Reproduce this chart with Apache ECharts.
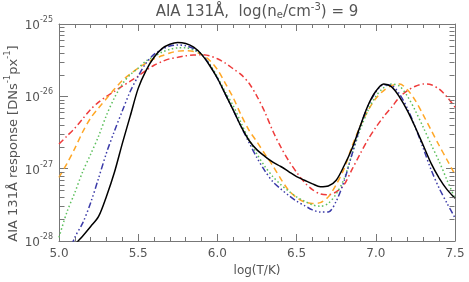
<!DOCTYPE html>
<html><head><meta charset="utf-8">
<script src="https://cdn.jsdelivr.net/npm/echarts@6/dist/echarts.min.js"></script>
<style>html,body{margin:0;padding:0;background:#fff}#c{width:469px;height:282px}</style>
</head><body><div id="c"></div><script>
// log10(T/K) sample points
const logT = [5.00,5.05,5.10,5.15,5.20,5.25,5.30,5.35,5.40,5.45,5.50,5.55,5.60,5.65,5.70,5.75,5.80,5.85,5.90,5.95,
  6.00,6.05,6.10,6.15,6.20,6.25,6.30,6.35,6.40,6.45,6.50,6.55,6.60,6.65,6.70,6.75,6.80,6.85,6.90,6.95,
  7.00,7.05,7.10,7.15,7.20,7.25,7.30,7.35,7.40,7.45,7.50];
// response values as log10(DN s^-1 px^-1)
const blackResp = [-28.35,-28.20,-28.05,-27.93,-27.80,-27.66,-27.38,-27.05,-26.65,-26.27,-25.89,-25.64,-25.46,-25.34,-25.28,-25.255,-25.27,-25.32,-25.42,-25.57,
  -25.75,-25.97,-26.19,-26.42,-26.61,-26.74,-26.83,-26.91,-26.97,-27.04,-27.11,-27.16,-27.21,-27.25,-27.24,-27.16,-26.96,-26.72,-26.42,-26.13,
  -25.93,-25.83,-25.87,-26.01,-26.20,-26.43,-26.68,-26.93,-27.13,-27.29,-27.41];
const blueResp = [-28.60,-28.25,-27.95,-27.75,-27.47,-27.13,-26.78,-26.48,-26.20,-25.93,-25.72,-25.54,-25.42,-25.35,-25.305,-25.29,-25.30,-25.34,-25.42,-25.56,
  -25.75,-25.97,-26.19,-26.42,-26.64,-26.85,-27.03,-27.18,-27.28,-27.37,-27.45,-27.51,-27.57,-27.60,-27.60,-27.45,-27.17,-26.80,-26.43,-26.14,
  -25.94,-25.84,-25.85,-25.97,-26.17,-26.43,-26.72,-27.02,-27.27,-27.48,-27.68];
const greenResp = [-27.95,-27.60,-27.33,-27.04,-26.80,-26.55,-26.26,-26.02,-25.83,-25.70,-25.61,-25.51,-25.45,-25.39,-25.35,-25.33,-25.33,-25.36,-25.42,-25.55,
  -25.73,-25.94,-26.13,-26.37,-26.60,-26.80,-26.97,-27.11,-27.22,-27.31,-27.39,-27.45,-27.50,-27.52,-27.48,-27.35,-27.14,-26.80,-26.47,-26.20,
  -26.00,-25.88,-25.83,-25.86,-26.00,-26.20,-26.43,-26.67,-26.90,-27.16,-27.41];
const orangeResp = [-27.12,-26.93,-26.72,-26.49,-26.30,-26.16,-26.03,-25.90,-25.78,-25.69,-25.61,-25.54,-25.48,-25.44,-25.40,-25.375,-25.37,-25.38,-25.42,-25.50,
  -25.63,-25.82,-26.02,-26.26,-26.47,-26.63,-26.80,-26.96,-27.14,-27.30,-27.40,-27.46,-27.48,-27.47,-27.39,-27.22,-27.00,-26.69,-26.42,-26.20,
  -26.03,-25.92,-25.85,-25.83,-25.91,-26.06,-26.26,-26.47,-26.68,-26.88,-27.08];
const redResp = [-26.66,-26.55,-26.44,-26.31,-26.18,-26.08,-26.00,-25.93,-25.86,-25.79,-25.72,-25.64,-25.57,-25.52,-25.48,-25.46,-25.44,-25.43,-25.425,-25.44,
  -25.48,-25.54,-25.62,-25.70,-25.82,-26.00,-26.22,-26.48,-26.70,-26.89,-27.05,-27.19,-27.29,-27.35,-27.36,-27.32,-27.22,-27.01,-26.80,-26.60,
  -26.43,-26.28,-26.15,-26.01,-25.92,-25.86,-25.83,-25.84,-25.90,-26.01,-26.15];
const yDecades = [-28,-27,-26,-25];
const xTickLabels = ['5.0','5.5','6.0','6.5','7.0','7.5'];

const FONT = 'DejaVu Sans';
const TXT = '#555';
const AX = '#777';

// minor log ticks (2..9 x 10^n) in log10 space
const yMinor = [];
for (let n = -28; n < -25; n++) for (let k = 2; k <= 9; k++) yMinor.push(n + Math.log10(k));

function xAx(pos, labels) {
  const a = {
    type: 'value', min: 5, max: 7.5, interval: 0.5, position: pos,
    axisLine: {show: true, onZero: false, lineStyle: {color: AX, width: 1}},
    axisTick: {show: true, inside: true, length: 7, lineStyle: {color: AX}},
    minorTick: {show: true, splitNumber: 5, length: 4, lineStyle: {color: AX}},
    splitLine: {show: false}, minorSplitLine: {show: false},
    axisLabel: labels ? {show: true, color: TXT, fontFamily: FONT, fontSize: 12, margin: 7,
      formatter: v => xTickLabels[Math.round((v - 5) / 0.5)]} : {show: false},
    name: labels ? 'log(T/K)' : '', nameLocation: 'middle', nameGap: 24,
    nameTextStyle: {color: TXT, fontFamily: FONT, fontSize: 12}
  };
  if (!labels) {
    // chart title, centred over the plot box
    a.name = '{t|AIA 131Å,  log(n}{sub|e}{t|/cm}{sup|-3}{t|) = 9}';
    a.nameGap = 4;
    a.nameTextStyle = {rich: {
      t: {fontSize: 15, fontFamily: FONT, color: TXT, verticalAlign: 'bottom', lineHeight: 18},
      sub: {fontSize: 10, fontFamily: FONT, color: TXT, verticalAlign: 'bottom', lineHeight: 16},
      sup: {fontSize: 10, fontFamily: FONT, color: TXT, verticalAlign: 'top', lineHeight: 18}}};
  }
  return a;
}
function yAx(pos, labels) {
  const a = {
    type: 'value', min: -28, max: -25, interval: 1, position: pos,
    axisLine: {show: true, onZero: false, lineStyle: {color: AX, width: 1}},
    axisTick: {show: true, inside: true, length: 9, lineStyle: {color: AX}},
    splitLine: {show: false},
    axisLabel: {show: false}
  };
  if (labels) {
    a.axisLabel = {show: true, margin: 6, fontFamily: FONT, color: TXT,
      formatter: v => '{b|10}{s|' + yDecades[yDecades.indexOf(v)] + '}',
      rich: {b: {fontSize: 12, fontFamily: FONT, color: TXT, verticalAlign: 'bottom', lineHeight: 16},
             s: {fontSize: 8, fontFamily: FONT, color: TXT, verticalAlign: 'top', lineHeight: 16}}};
    a.name = '{t|AIA 131Å response [DNs}{s|-1}{t|px}{s|-1}{t|]}';
    a.nameLocation = 'middle';
    a.nameGap = 39;
    a.nameMoveOverlap = false;
    a.nameTextStyle = {padding: [0, 22, 0, 0], rich: {
      t: {fontSize: 13, fontFamily: FONT, color: TXT, verticalAlign: 'bottom', lineHeight: 17},
      s: {fontSize: 8.5, fontFamily: FONT, color: TXT, verticalAlign: 'top', lineHeight: 17}}};
  }
  return a;
}
function ser(name, vals, color, dash, width) {
  return {
    name, type: 'line', xAxisIndex: 0, yAxisIndex: 0,
    data: logT.map((t, i) => [t, vals[i]]),
    showSymbol: false, smooth: 0.3, clip: true,
    lineStyle: {color, width, type: dash, cap: 'butt'},
    z: 3
  };
}

const chart = echarts.init(document.getElementById('c'), null, {renderer: 'canvas'});
chart.setOption({
  animation: false,
  backgroundColor: '#fff',
  grid: {left: 59, right: 14, top: 24, bottom: 41, containLabel: false, outerBoundsMode: 'none'},
  xAxis: [xAx('bottom', true), xAx('top', false)],
  yAxis: [yAx('left', true), yAx('right', false)],
  series: [
    {
      type: 'custom', name: 'minorTicks', xAxisIndex: 0, yAxisIndex: 0, silent: true, z: 4, clip: false,
      data: yMinor.map(v => [5, v]),
      renderItem: (params, api) => {
        const p = api.coord([5, api.value(1)]);
        const cs = params.coordSys;
        const y = Math.round(p[1]) + 0.5;
        const xl = Math.round(cs.x) + 0.5, xr = Math.round(cs.x + cs.width) - 0.5;
        return {type: 'group', children: [
          {type: 'line', shape: {x1: xl, y1: y, x2: xl + 5, y2: y}, style: {stroke: AX, lineWidth: 1}},
          {type: 'line', shape: {x1: xr, y1: y, x2: xr - 5, y2: y}, style: {stroke: AX, lineWidth: 1}}
        ]};
      }
    },
    ser('ne9', redResp, '#ee3b3b', [6, 3, 1.5, 3], 1.5),
    ser('ne10', orangeResp, '#ffa726', [6, 4], 1.5),
    ser('ne11', greenResp, '#5cbf5c', [1.5, 2.5], 1.5),
    ser('ne12', blueResp, '#3a3aa8', [6, 2.5, 1.5, 2.5, 1.5, 2.5, 1.5, 2.5], 1.5),
    ser('ne13', blackResp, '#000', 'solid', 1.5)
  ]
});
</script></body></html>
